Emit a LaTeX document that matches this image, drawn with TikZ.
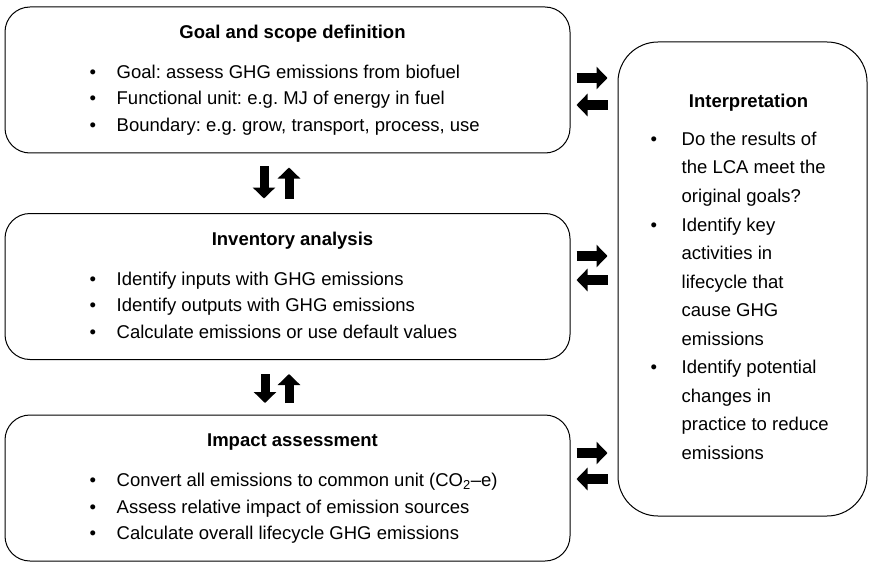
\documentclass[tikz,border=0pt]{standalone}
\usepackage{fontspec}
\setmainfont{Liberation Sans}
\usetikzlibrary{arrows.meta,positioning}
\frenchspacing

\tikzset{
  stagebox/.style={draw, line width=1pt, rounded corners=25pt, minimum width=565pt, minimum height=146pt, inner sep=0pt},
  interpbox/.style={draw, line width=1pt, rounded corners=40pt, minimum width=249pt, minimum height=474pt, inner sep=0pt},
  boxtitle/.style={font=\fontsize{18.5}{22}\selectfont\bfseries, anchor=base, inner sep=0pt},
  bulletline/.style={font=\fontsize{18.5}{22}\selectfont, anchor=base west, inner sep=0pt},
  blockarrow/.style={line width=10pt, -{Triangle[length=11pt,width=22pt]}},
  uparrow/.style={line width=9pt, -{Triangle[length=11pt,width=22pt]}},
}

\begin{document}
\begin{tikzpicture}[x=1pt,y=-1pt]
      \useasboundingbox (0,0) rectangle (869,564);
      % the three stages on the left
      \node[stagebox] (goal) at (287.5,80) {};
      \node[stagebox] (inventory) at (287.5,286.5) {};
      \node[stagebox] (impact) at (287.5,488) {};
      \node[interpbox] (interp) at (742.5,279) {};

      \node[boxtitle] (goaltitle) at ([xshift=288pt,yshift=-32pt]goal.north west) {Goal and scope definition};
      \foreach \txt [count=\i] in {Goal: assess GHG emissions from biofuel, Functional unit: e.g.\ MJ of energy in fuel, {Boundary: e.g.\ grow, transport, process, use}}
        \node[bulletline] (goal-\i) at ([xshift=85pt,yshift={-72pt-(\i-1)*26.5pt}]goal.north west) {\makebox[27pt][l]{\textbullet}\txt};

      \node[boxtitle] (inventorytitle) at ([xshift=288pt,yshift=-32pt]inventory.north west) {Inventory analysis};
      \foreach \txt [count=\i] in {Identify inputs with GHG emissions, Identify outputs with GHG emissions, Calculate emissions or use default values}
        \node[bulletline] (inventory-\i) at ([xshift=85pt,yshift={-72pt-(\i-1)*26.5pt}]inventory.north west) {\makebox[27pt][l]{\textbullet}\txt};

      \node[boxtitle] (impacttitle) at ([xshift=288pt,yshift=-32pt]impact.north west) {Impact assessment};
      \foreach \txt [count=\i] in {Convert all emissions to common unit (CO\textsubscript{2}--e), Assess relative impact of emission sources, Calculate overall lifecycle GHG emissions}
        \node[bulletline] (impact-\i) at ([xshift=85pt,yshift={-72pt-(\i-1)*26.5pt}]impact.north west) {\makebox[27pt][l]{\textbullet}\txt};

      % interpretation
      \node[boxtitle] (interptitle) at ([xshift=6pt,yshift=-66pt]interp.north) {Interpretation};
      \foreach \b/\txt [count=\i] in {\textbullet/Do the results of, /the LCA meet the, /original goals?, \textbullet/Identify key, /activities in, /lifecycle that, /cause GHG, /emissions, \textbullet/Identify potential, /changes in, /practice to reduce, /emissions}
        \node[bulletline] (interp-\i) at ([xshift=33pt,yshift={-104pt-(\i-1)*28.5pt}]interp.north west) {\makebox[31pt][l]{\b}\txt};

      % arrows between the stages
      \draw[blockarrow] ([xshift=6pt,yshift=2pt]goal.east) -- ++(31,0);
      \draw[blockarrow] ([xshift=37pt,yshift=-25pt]goal.east) -- ++(-31,0);
      \draw[blockarrow] ([xshift=6pt,yshift=30.5pt]inventory.east) -- ++(31,0);
      \draw[blockarrow] ([xshift=37pt,yshift=6.5pt]inventory.east) -- ++(-31,0);
      \draw[blockarrow] ([xshift=6pt,yshift=35pt]impact.east) -- ++(31,0);
      \draw[blockarrow] ([xshift=37pt,yshift=9pt]impact.east) -- ++(-31,0);

      \draw[uparrow] ([xshift=-23.5pt,yshift=-13pt]goal.south) -- ++(0,32);
      \draw[uparrow] ([xshift=1.5pt,yshift=-45pt]goal.south) -- ++(0,-31);
      \draw[uparrow] ([xshift=-22.5pt,yshift=-14pt]inventory.south) -- ++(0,29);
      \draw[uparrow] ([xshift=1.5pt,yshift=-43pt]inventory.south) -- ++(0,-29);
\end{tikzpicture}
\end{document}
